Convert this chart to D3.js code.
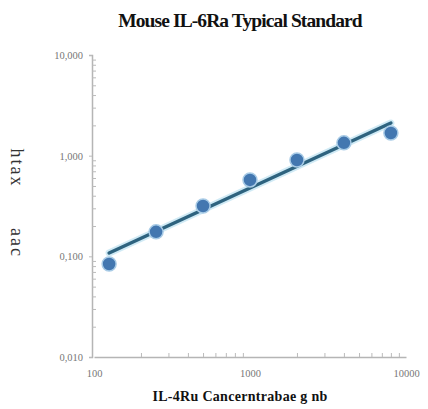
<!DOCTYPE html>
<html>
<head>
<meta charset="utf-8">
<script src="https://cdn.jsdelivr.net/npm/d3@7"></script>
<style>
  body { margin: 0; background: #fff; }
  svg { display: block; }
</style>
</head>
<body>
<script>
// standard curve readings
var concentrations = [125, 250, 500, 1000, 2000, 4000, 8000];
var odValues = [0.084, 0.175, 0.316, 0.574, 0.906, 1.34, 1.68];

// fitted line end points
var fitX = [125, 8000];
var fitY = [0.108, 2.11];

var xTicks = [100, 1000, 10000];
var xTickLabels = ["100", "1000", "10000"];
var yTicks = [10, 1, 0.1, 0.01];
var yTickLabels = ["10,000", "1,000", "0,100", "0,010"];

var width = 428, height = 409;
var margin = {top: 55, right: 22, bottom: 52, left: 94};

var svg = d3.select("body").append("svg")
    .attr("width", width)
    .attr("height", height);

var x = d3.scaleLog().domain([100, 10000]).range([margin.left, width - margin.right]);
var y = d3.scaleLog().domain([0.01, 10]).range([height - margin.bottom, margin.top]);

// title
svg.append("text")
    .attr("x", 240)
    .attr("y", 27)
    .attr("text-anchor", "middle")
    .attr("font-family", "Liberation Serif")
    .attr("font-weight", "bold")
    .attr("font-size", 19.5)
    .attr("letter-spacing", -0.9)
    .attr("fill", "#111")
    .text("Mouse IL-6Ra Typical Standard");

// minor ticks
var minorX = [];
[100, 1000].forEach(function (d) { for (var k = 2; k <= 9; k++) minorX.push(d * k); });
var minorY = [];
[0.01, 0.1, 1].forEach(function (d) { for (var k = 2; k <= 9; k++) minorY.push(d * k); });

svg.append("g")
    .attr("transform", "translate(0," + y(0.01) + ")")
    .call(d3.axisBottom(x).tickValues(xTicks).tickFormat(function (d, i) { return xTickLabels[i]; }).tickSize(0).tickPadding(13));

svg.append("g")
    .attr("transform", "translate(0," + y(0.01) + ")")
    .call(d3.axisBottom(x).tickValues(minorX).tickFormat("").tickSize(-4))
    .select(".domain").remove();

svg.append("g")
    .attr("transform", "translate(" + (margin.left - 2) + ",0)")
    .call(d3.axisLeft(y).tickValues(yTicks).tickFormat(function (d, i) { return yTickLabels[i]; }).tickSize(3).tickPadding(6));

svg.append("g")
    .attr("transform", "translate(" + (margin.left - 2) + ",0)")
    .call(d3.axisLeft(y).tickValues(minorY).tickFormat("").tickSize(-4))
    .select(".domain").remove();

svg.selectAll(".domain").attr("stroke", "#b5b5b5").attr("stroke-width", 1.5);
svg.selectAll(".tick line").attr("stroke", "#bbb");
svg.selectAll(".tick text")
    .attr("fill", "#777")
    .attr("font-family", "Liberation Serif")
    .attr("font-size", 10.5);

// axis titles
svg.append("text")
    .attr("x", 240)
    .attr("y", 401)
    .attr("text-anchor", "middle")
    .attr("font-family", "Liberation Serif")
    .attr("font-weight", "bold")
    .attr("font-size", 14)
    .attr("letter-spacing", 0.3)
    .attr("fill", "#111")
    .text("IL-4Ru  Cancerntrabae  g  nb");

svg.append("text")
    .attr("transform", "translate(11,168) rotate(90)")
    .attr("text-anchor", "middle")
    .attr("font-family", "Liberation Serif")
    .attr("font-size", 18)
    .attr("letter-spacing", 2)
    .attr("fill", "#333")
    .text("htax");

svg.append("text")
    .attr("transform", "translate(11,243) rotate(90)")
    .attr("text-anchor", "middle")
    .attr("font-family", "Liberation Serif")
    .attr("font-size", 18)
    .attr("letter-spacing", 2)
    .attr("fill", "#333")
    .text("aac");

// fit line with a soft halo
var line = d3.line()
    .x(function (d, i) { return x(fitX[i]); })
    .y(function (d) { return y(d); });

svg.append("path")
    .datum(fitY)
    .attr("d", line)
    .attr("fill", "none")
    .attr("stroke", "#a9d8ec")
    .attr("stroke-width", 7)
    .attr("stroke-linecap", "round")
    .attr("opacity", 0.55);

svg.append("path")
    .datum(fitY)
    .attr("d", line)
    .attr("fill", "none")
    .attr("stroke", "#2e637f")
    .attr("stroke-width", 3.5)
    .attr("stroke-linecap", "round");

// points
svg.selectAll(".pt")
    .data(odValues)
    .enter().append("circle")
    .attr("class", "pt")
    .attr("cx", function (d, i) { return x(concentrations[i]); })
    .attr("cy", function (d) { return y(d); })
    .attr("r", 7)
    .attr("fill", "#4377b0")
    .attr("stroke", "#a8cbe6")
    .attr("stroke-width", 1.5);
</script>
</body>
</html>
